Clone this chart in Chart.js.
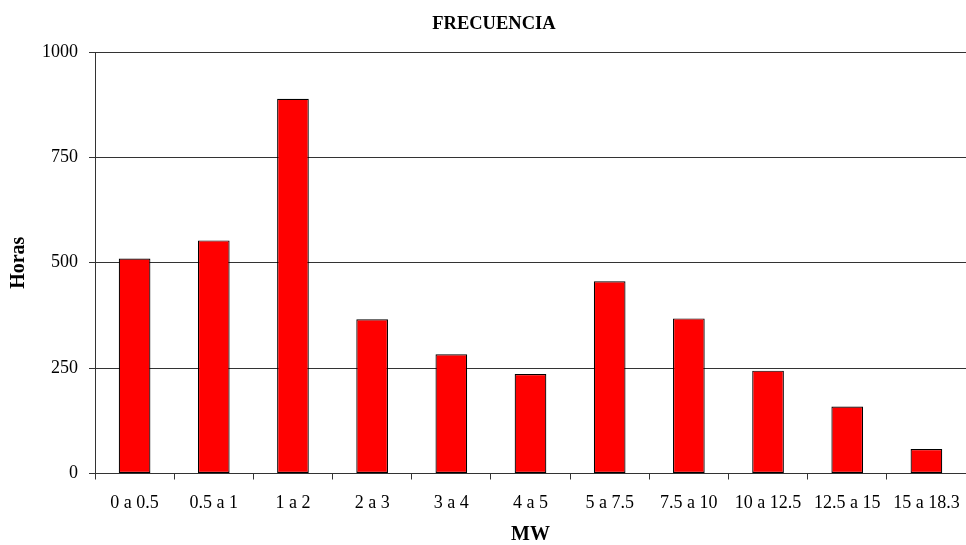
<!DOCTYPE html>
<html>
<head>
<meta charset="utf-8">
<title>FRECUENCIA</title>
<script src="https://cdn.jsdelivr.net/npm/chart.js@4/dist/chart.umd.min.js"></script>
<style>
  html, body { margin: 0; padding: 0; background: #fff; }
  canvas { display: block; }
</style>
</head>
<body>
<canvas id="chart" width="966" height="545"></canvas>
<script>
// Rangos de potencia (MW) y horas registradas en cada rango
const categories = ['0 a 0.5', '0.5 a 1', '1 a 2', '2 a 3', '3 a 4', '4 a 5', '5 a 7.5', '7.5 a 10', '10 a 12.5', '12.5 a 15', '15 a 18.3'];
const horas = [510, 553, 889, 366, 283, 236, 456, 368, 244, 159, 58];
const yTicks = [0, 250, 500, 750, 1000];

const chartTitle = 'FRECUENCIA';
const xTitle = 'MW';
const yTitle = 'Horas';

const SERIF = '"Liberation Serif", "Times New Roman", serif';
const LINE = '#333333';

// Título centrado sobre el área del gráfico
const titlePlugin = {
  id: 'tituloFrecuencia',
  afterDraw(chart) {
    const ctx = chart.ctx;
    const area = chart.chartArea;
    ctx.save();
    ctx.font = 'bold 18.5px ' + SERIF;
    ctx.fillStyle = '#000';
    ctx.textAlign = 'center';
    ctx.textBaseline = 'middle';
    ctx.fillText(chartTitle, area.left + (area.right - area.left) * 0.458, 24);
    ctx.restore();
  }
};

new Chart(document.getElementById('chart'), {
  type: 'bar',
  data: {
    labels: categories,
    datasets: [{
      label: yTitle,
      data: horas,
      backgroundColor: '#FF0000',
      borderColor: '#000000',
      borderWidth: 1.2,
      borderSkipped: false,
      categoryPercentage: 1.0,
      barPercentage: 0.4
    }]
  },
  options: {
    responsive: false,
    devicePixelRatio: 1,
    animation: false,
    layout: { padding: { top: 52, right: 0, bottom: 0, left: 0 } },
    plugins: {
      legend: { display: false },
      title: { display: false },
      tooltip: { enabled: false }
    },
    scales: {
      x: {
        offset: true,
        grid: {
          offset: true,
          drawOnChartArea: false,
          drawTicks: true,
          tickLength: 6,
          color: LINE
        },
        border: { display: true, color: LINE, width: 1 },
        ticks: {
          color: '#000',
          font: { family: SERIF, size: 18 },
          padding: 13,
          maxRotation: 0,
          autoSkip: false
        },
        title: {
          display: true,
          text: xTitle,
          color: '#000',
          font: { family: SERIF, size: 20, weight: 'bold', lineHeight: 1.0 },
          padding: { top: 6, bottom: 0 }
        },
        afterFit(scale) {
          scale.height = 71.5;
          scale.paddingLeft = 0;
          scale.paddingRight = 0;
        }
      },
      y: {
        min: 0,
        max: 1000,
        afterBuildTicks(scale) { scale.ticks = yTicks.map(v => ({ value: v })); },
        grid: {
          color: LINE,
          drawTicks: true,
          tickLength: 6
        },
        border: { display: true, color: LINE, width: 1 },
        ticks: {
          color: '#000',
          font: { family: SERIF, size: 18 },
          padding: 11,
          callback: (value) => String(value)
        },
        title: {
          display: true,
          text: yTitle,
          color: '#000',
          font: { family: SERIF, size: 20, weight: 'bold', lineHeight: 1.0 },
          padding: { top: 9, bottom: 0 }
        },
        afterFit(scale) { scale.width = 95; }
      }
    }
  },
  plugins: [titlePlugin]
});
</script>
</body>
</html>
